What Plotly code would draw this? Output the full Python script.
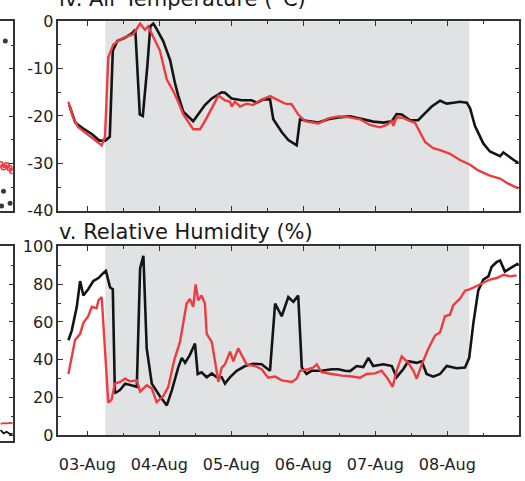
import pandas as pd
import plotly.graph_objects as go

# ---- data -------------------------------------------------------------
# Time stamps are hours after 03-Aug 00:00 (local time).
T0 = pd.Timestamp("2022-08-03 00:00")

# iv. Air temperature (°C)
temp_black_hours = [-6, -4, -2, -1, 1.5, 4, 6, 7.5, 8.5, 10, 12.5, 15, 16, 17.5, 18.5, 20, 21, 22, 23,
                    25.3, 27.6, 29.2, 30.3, 32, 35.3, 39.2, 41.5, 44.8, 45.9, 48.1, 51.5, 54.8, 56.5,
                    58.7, 60.9, 62, 64.8, 67, 69.8, 70.9, 73.7, 77, 80.3, 83.7, 87.6, 92, 95.3, 98.7,
                    101.5, 103.1, 104.8, 107.6, 110.3, 112.6, 114.8, 117.6, 119.8, 122, 124.2, 126.5,
                    127.6, 129.2, 132, 134.2, 137.6, 138.7, 140.3, 142.6, 143.7]
temp_black = [-17.7, -21.4, -22.4, -22.8, -23.8, -25.2, -25.2, -24.4, -6.2, -4.2, -3.5, -2.5, -1.8,
              -19.7, -20.0, -9.6, -1.1, -0.5, -1.5, -4.2, -8.2, -13.0, -15.7, -19.1, -21.1, -17.7,
              -16.3, -15.0, -15.1, -16.3, -16.7, -16.7, -17.2, -16.5, -16.5, -20.7, -23.4, -25.1,
              -26.2, -20.7, -21.1, -21.4, -20.7, -20.3, -20.1, -20.7, -21.2, -21.4, -21.1, -19.6,
              -19.7, -20.9, -20.9, -19.4, -18.0, -16.8, -17.4, -17.2, -17.0, -17.2, -18.4, -22.1,
              -25.8, -27.5, -28.5, -27.7, -28.5, -29.5, -29.9]

temp_red_hours = [-6.3, -4.7, -3, -0.2, 2.6, 4.8, 5.9, 7, 8.7, 10.9, 13.1, 15.3, 17.6, 19.2, 20.3, 22,
                  24.2, 26.5, 28.7, 30.3, 32, 35.3, 37.6, 39.8, 43.7, 45.9, 47.6, 48.1, 49.2, 50.9,
                  53.1, 55.3, 57.6, 60.9, 62.6, 65.9, 68.1, 70.3, 72.6, 77, 80.3, 83.7, 87.6, 90.9,
                  94.2, 97.6, 99.8, 101.5, 102, 103.1, 105.3, 107.6, 109.2, 110.9, 112.6, 115.3,
                  117.6, 120.9, 124.2, 127.6, 130.3, 134.2, 137.6, 140.3, 143.7]
temp_red = [-17.0, -20.4, -22.4, -23.8, -25.1, -26.2, -24.4, -7.6, -4.9, -3.9, -3.2, -2.8, -0.5,
            -1.8, -1.1, -3.2, -6.2, -12.3, -14.8, -17.0, -19.7, -22.8, -22.8, -20.4, -15.7, -16.7,
            -17.0, -18.0, -17.0, -18.0, -17.4, -17.7, -16.7, -15.8, -16.3, -17.4, -17.5, -19.7,
            -21.1, -21.6, -20.5, -20.1, -20.3, -20.7, -21.9, -22.4, -21.9, -21.1, -22.1, -20.3,
            -20.4, -21.1, -21.4, -23.4, -25.5, -26.8, -27.2, -28.0, -29.3, -30.3, -31.5, -32.6,
            -33.2, -34.3, -35.3]

# v. Relative humidity (%)
rh_black_hours = [-6.3, -5.2, -3.5, -2.4, -1.3, 0.3, 2, 3.7, 5.3, 6.2, 7.6, 8.5, 9.2, 10.9, 12.6, 14.8,
                  16.5, 17.6, 18.7, 19.8, 21.5, 24.2, 26.5, 28.2, 30.3, 31.5, 32.6, 34.2, 35.9, 36.8,
                  38.1, 39.8, 41.5, 43.1, 44.8, 45.9, 47.6, 49.8, 52.6, 55.3, 58.1, 60.9, 62.6, 64.8,
                  67, 68.7, 70.3, 71.5, 73.1, 74.8, 78.1, 81.5, 83.7, 85.9, 87.6, 89.8, 92, 93.7, 95.3,
                  98.7, 101.5, 103.1, 105.3, 107, 109.8, 111.5, 113.1, 115.3, 117.6, 119.8, 123.1,
                  125.9, 127.3, 128.7, 130.3, 132, 133.7, 134.8, 136.5, 137.6, 139.2, 140.9, 142.6,
                  143.7]
rh_black = [50.3, 55.3, 68.0, 81.6, 74.0, 77.3, 81.6, 83.2, 85.8, 87.0, 78.2, 77.3, 22.3, 24.0, 27.4,
            26.5, 25.7, 88.3, 95.0, 46.0, 27.4, 20.7, 15.9, 24.0, 35.9, 41.0, 38.4, 42.6, 48.6, 32.5,
            33.4, 30.8, 32.8, 30.8, 30.8, 27.4, 30.8, 34.2, 36.7, 37.9, 37.6, 34.2, 69.7, 63.0, 73.1,
            70.6, 74.0, 35.9, 32.5, 34.2, 34.2, 35.0, 35.0, 34.2, 34.0, 36.7, 36.2, 41.0, 36.7, 37.6,
            36.7, 30.8, 35.0, 39.2, 38.4, 39.2, 32.5, 31.1, 32.5, 36.7, 35.5, 35.9, 41.0, 59.5, 76.5,
            82.4, 84.1, 89.2, 91.7, 92.5, 86.6, 88.3, 90.0, 90.9]

rh_red_hours = [-6.3, -4.1, -2.4, -1.3, 0.3, 1.5, 3.1, 3.7, 4.8, 5.9, 7, 8.1, 9.2, 10.9, 12.6, 14.2,
                16.5, 17.6, 19.8, 21.5, 23.1, 25.3, 27, 29, 30.9, 33.1, 34.2, 35.3, 36.1, 37, 38.1,
                39.2, 39.8, 41.5, 42.6, 43.7, 44.8, 45.9, 47.6, 48.7, 50.3, 51.5, 53.1, 55.9, 58.1,
                60.3, 62.6, 64.8, 68.1, 69.8, 70.9, 73.7, 75.3, 76.5, 78.1, 81.5, 84.8, 87.6, 90.9,
                93.1, 95.9, 98.1, 99.8, 101.8, 103.1, 104.8, 107, 108.7, 109.8, 111.5, 113.7, 115.9,
                117.6, 119.2, 120.9, 122, 124.2, 125.9, 127.6, 129.8, 132, 134.2, 136.5, 138.7, 140.9,
                143.1]
rh_red = [32.5, 50.3, 53.7, 59.5, 63.0, 68.0, 67.2, 71.4, 73.1, 46.0, 17.3, 18.9, 27.4, 28.3, 30.0,
          28.6, 29.1, 23.2, 26.5, 24.9, 17.6, 20.7, 25.7, 40.0, 49.4, 69.7, 72.2, 68.0, 79.8, 71.4,
          74.0, 69.7, 53.7, 49.4, 37.6, 28.3, 35.9, 37.6, 44.3, 39.2, 46.0, 42.6, 37.6, 36.7, 35.0,
          30.5, 31.1, 29.1, 28.3, 30.0, 34.2, 35.0, 35.9, 37.6, 33.4, 32.5, 31.6, 31.3, 30.5, 32.5,
          32.8, 34.2, 30.8, 25.7, 34.2, 41.8, 38.4, 34.2, 30.0, 37.6, 46.0, 52.8, 54.5, 63.0, 63.8,
          68.9, 72.2, 76.5, 77.3, 79.0, 80.7, 82.4, 83.2, 84.9, 84.1, 84.6]

# neighbouring panels (only their right-hand edge is in view)
side_temp_dots_x = [0.39, 0.24, 0.08, 0.79]
side_temp_dots = [-4.1, -35.9, -39.0, -38.4]
side_temp_red_x = [0.0, 0.25, 0.5, 0.75, 0.95]
side_temp_red = [-30.2, -30.8, -30.4, -31.0, -31.6]
side_rh_x = [0.0, 0.25, 0.5, 0.8, 1.0]
side_rh_black = [2.9, 1.2, 2.0, 0.7, 1.0]
side_rh_red = [6.2, 6.6, 6.4, 6.7, 6.5]

# shaded period
shade_start = "2022-08-03 06:00"
shade_end = "2022-08-08 07:20"

# axis ticks
temp_ticks = [0, -10, -20, -30, -40]
rh_ticks = [0, 20, 40, 60, 80, 100]
x_range = ["2022-08-02 14:20", "2022-08-09 00:00"]


def to_time(hours):
    return T0 + pd.to_timedelta(hours, unit="h")


# ---- figure -----------------------------------------------------------
W, H = 525, 481
BLACK = "#141414"
RED = "#ee3b3f"
AXIS = "#333333"
FONT = "DejaVu Sans"

fig = go.Figure()

fig.add_trace(go.Scatter(x=to_time(temp_black_hours), y=temp_black, mode="lines",
                         line=dict(color=BLACK, width=2.6), xaxis="x", yaxis="y"))
fig.add_trace(go.Scatter(x=to_time(temp_red_hours), y=temp_red, mode="lines",
                         line=dict(color=RED, width=2.4), xaxis="x", yaxis="y"))
fig.add_trace(go.Scatter(x=to_time(rh_black_hours), y=rh_black, mode="lines",
                         line=dict(color=BLACK, width=2.6), xaxis="x2", yaxis="y2"))
fig.add_trace(go.Scatter(x=to_time(rh_red_hours), y=rh_red, mode="lines",
                         line=dict(color=RED, width=2.4), xaxis="x2", yaxis="y2"))

# edge of the neighbouring panels
fig.add_trace(go.Scatter(x=side_temp_red_x, y=side_temp_red, mode="lines+markers",
                         line=dict(color=RED, width=1.5),
                         marker=dict(symbol="circle-open", size=5, color=RED, line=dict(width=1.5)),
                         xaxis="x3", yaxis="y3"))
fig.add_trace(go.Scatter(x=side_temp_dots_x, y=side_temp_dots, mode="markers",
                         marker=dict(size=5, color="#3a3a3a"), xaxis="x3", yaxis="y3"))
fig.add_trace(go.Scatter(x=side_rh_x, y=side_rh_red, mode="lines",
                         line=dict(color=RED, width=1.8), xaxis="x4", yaxis="y4"))
fig.add_trace(go.Scatter(x=side_rh_x, y=side_rh_black, mode="lines",
                         line=dict(color=BLACK, width=1.8), xaxis="x4", yaxis="y4"))

x_dom = [58.3 / W, 519.3 / W]
top_dom = [1 - 210 / H, 1 - 12.7 / H]
bot_dom = [1 - 444 / H, 1 - 247 / H]

xcommon = dict(type="date", range=x_range, tick0="2022-08-03", dtick=86400000,
               tickformat="%d-%b", ticks="inside", ticklen=5, tickwidth=1.3, tickcolor=AXIS,
               showline=True, linecolor=AXIS, linewidth=1.5, mirror="ticks",
               showgrid=False, zeroline=False,
               minor=dict(dtick=43200000, tick0="2022-08-03", ticks="inside", ticklen=3,
                          tickwidth=1.2, tickcolor=AXIS, showgrid=False),
               tickfont=dict(family=FONT, size=16, color="#222222"))

ycommon = dict(ticks="inside", ticklen=5, tickwidth=1.3, tickcolor=AXIS,
               showline=True, linecolor=AXIS, linewidth=1.5, mirror="ticks",
               showgrid=False, zeroline=False, tickmode="array",
               tickfont=dict(family=FONT, size=16, color="#222222"))

fig.update_layout(
    width=W, height=H,
    margin=dict(l=0, r=0, t=0, b=0),
    paper_bgcolor="white", plot_bgcolor="white",
    showlegend=False,
    xaxis=dict(xcommon, domain=x_dom, anchor="y", showticklabels=False),
    yaxis=dict(ycommon, domain=top_dom, anchor="x", range=[-40, 0],
               tickvals=temp_ticks, ticktext=[f"{v:d}" for v in temp_ticks],
               minor=dict(dtick=5, ticks="inside", ticklen=3, tickcolor=AXIS, showgrid=False)),
    xaxis2=dict(xcommon, domain=x_dom, anchor="y2", ticklabelstandoff=14),
    yaxis2=dict(ycommon, domain=bot_dom, anchor="x2", range=[0, 100],
                tickvals=rh_ticks, ticktext=[f"{v:d}" for v in rh_ticks],
                minor=dict(dtick=10, ticks="inside", ticklen=3, tickcolor=AXIS, showgrid=False)),
    xaxis3=dict(domain=[0, 12.7 / W], anchor="y3", range=[-0.05, 1], showline=True,
                linecolor=AXIS, linewidth=1.5, mirror=True, showticklabels=False,
                ticks="", showgrid=False, zeroline=False),
    yaxis3=dict(domain=[1 - 210 / H, 1 - 13 / H], anchor="x3", side="right", range=[-40, 0],
                showline=True, linecolor=AXIS, linewidth=1.5, showticklabels=False,
                ticks="inside", ticklen=4, dtick=10, tickcolor=AXIS,
                minor=dict(dtick=5, ticks="inside", ticklen=2, tickcolor=AXIS),
                showgrid=False, zeroline=False),
    xaxis4=dict(domain=[0, 12.7 / W], anchor="y4", range=[-0.05, 1], showline=True,
                linecolor=AXIS, linewidth=1.5, mirror=True, showticklabels=False,
                ticks="", showgrid=False, zeroline=False),
    yaxis4=dict(domain=[1 - 450 / H, 1 - 247 / H], anchor="x4", side="right", range=[-3, 100],
                showline=True, linecolor=AXIS, linewidth=1.5, showticklabels=False,
                ticks="inside", ticklen=4, dtick=20, tickcolor=AXIS,
                minor=dict(dtick=10, ticks="inside", ticklen=2, tickcolor=AXIS),
                showgrid=False, zeroline=False),
)

# shaded period behind both time series
for xr, yr in (("x", "y domain"), ("x2", "y2 domain")):
    fig.add_shape(type="rect", xref=xr, yref=yr, x0=shade_start, x1=shade_end, y0=0, y1=1,
                  fillcolor="#e1e2e4", line=dict(width=0), layer="below")

# panel titles
fig.add_annotation(text="iv. Air Temperature (°C)", xref="paper", yref="paper",
                   x=57 / W, y=1 - 4 / H, xanchor="left", yanchor="bottom", showarrow=False,
                   font=dict(family=FONT, size=21, color="#1a1a1a"))
fig.add_annotation(text="v. Relative Humidity (%)", xref="paper", yref="paper",
                   x=57 / W, y=1 - 247 / H, xanchor="left", yanchor="bottom", showarrow=False,
                   font=dict(family=FONT, size=21, color="#1a1a1a"))

fig.write_html("out.html")
